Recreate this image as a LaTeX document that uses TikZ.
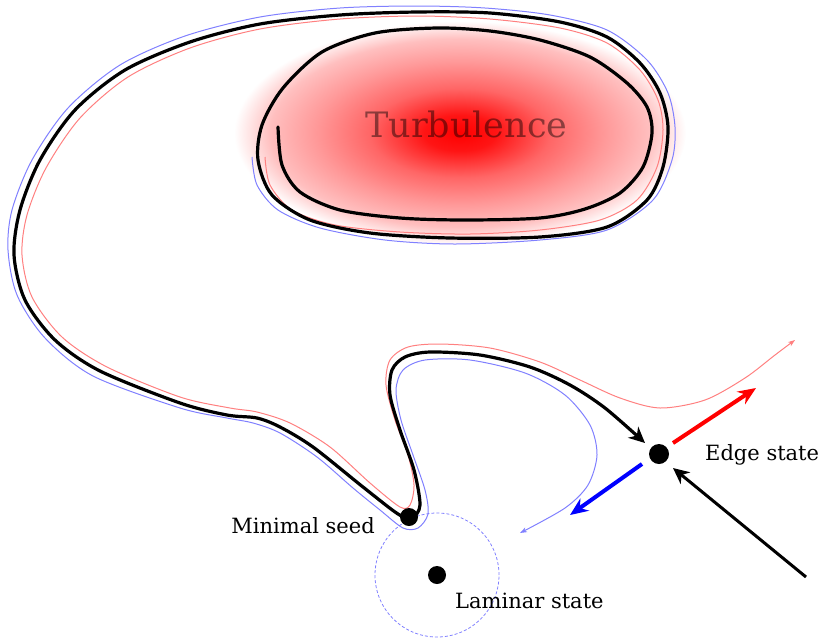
\documentclass[tikz,border=0pt]{standalone}
\usepackage{fontspec}
\setmainfont{DejaVu Serif}
\usetikzlibrary{arrows.meta}
\pgfdeclareradialshading{turb}{\pgfpoint{0bp}{0bp}}{color(0bp)=(red); color(4bp)=(red!92!white); color(10bp)=(red!60!white); color(16bp)=(red!40!white); color(21bp)=(red!25!white); color(25bp)=(white); color(50bp)=(white)}
\tikzset{
  dot/.style={circle, fill=black, inner sep=0pt, minimum size=18pt},
  lbl/.style={inner sep=0pt, font=\fontsize{21}{25}\selectfont},
  traj/.style={line width=3.2pt, line cap=round, line join=round},
  thinred/.style={red!50, line width=1pt},
  thinblue/.style={blue!50, line width=1pt},
  bigtip/.style={-{Stealth[length=16pt,width=15pt,inset=5pt]}},
  smalltip/.style={-{Stealth[length=7pt,width=5pt,inset=2pt]}},
}
\begin{document}
\begin{tikzpicture}[x=1pt,y=-1pt]
\useasboundingbox (0,0) rectangle (824,638);
% turbulence blob
\shade[shading=turb] (460,133) ellipse [x radius=226pt, y radius=112pt];
\node[inner sep=0pt, anchor=base west, font=\fontsize{35}{40}\selectfont, text=black, text opacity=0.45] (turb) at (365,137) {Turbulence};
% laminar basin
\draw[blue!50, line width=0.8pt, dash pattern=on 3pt off 2pt] (437,575) circle [radius=62pt];
% thin red trajectory
\draw[thinred, smalltip] plot[smooth, tension=0.5] coordinates {
(265,157) (270,185) (292,210) (335,225) (400,232) (470,234) (540,230) (600,220) (637,200) (657,167) (663,130) (658,100) (640,70) (607,43) (560,28) (490,19) (417,16) (340,19) (260,29) (190,48) (128,77) (80,118) (46,168) (27,215) (22,255) (32,297) (62,337) (107,367) (180,397) (230,408) (257,412) (290,423) (330,447) (370,483) (400,507) (410,505) (414,485) (408,455) (395,420) (386,385) (390,360) (408,347) (440,344) (490,348) (540,362) (580,380) (620,398) (660,408) (705,400) (745,378) (775,355) (795,340)};
% thin blue trajectory
\draw[thinblue, smalltip] plot[smooth, tension=0.5] coordinates {
(252,157) (257,185) (278,210) (320,228) (385,240) (455,244) (540,240) (607,230) (653,200) (672,160) (675,127) (668,93) (647,60) (607,30) (550,15) (485,8) (417,6) (340,8) (260,17) (185,36) (120,65) (68,108) (32,160) (12,210) (8,250) (17,295) (45,338) (93,376) (180,408) (227,418) (253,423) (280,433) (317,457) (353,488) (380,510) (403,528) (418,528) (428,514) (425,490) (413,455) (401,420) (396,390) (403,370) (425,360) (470,360) (525,373) (565,395) (590,425) (597,455) (588,485) (565,508) (520,533)};
% main black trajectory
\draw[traj, bigtip] plot[smooth, tension=0.5] coordinates {
(278,127) (282,165) (300,192) (340,210) (400,218) (465,220) (540,218) (585,209) (620,193) (643,167) (652,133) (647,107) (627,83) (590,57) (540,40) (490,31) (437,28) (375,33) (322,52) (283,88) (262,125) (258,160) (272,195) (310,220) (370,233) (450,238) (540,237) (607,227) (647,200) (663,167) (668,127) (660,93) (640,63) (607,37) (560,22) (490,13) (417,12) (340,15) (260,24) (190,42) (125,70) (75,110) (40,160) (20,210) (14,255) (25,300) (55,340) (100,371) (180,403) (227,415) (257,418) (280,427) (313,447) (363,487) (398,514) (412,518) (420,505) (414,470) (400,430) (390,395) (392,370) (405,357) (430,352) (480,355) (530,367) (570,385) (605,408) (645,443)};
% states
\node[dot] (seed) at (409,517) {};
\node[dot] (lam) at (437,575) {};
\node[dot, minimum size=20pt] (edge) at (659,454) {};
% edge state manifold arrows
\coordinate (rs) at (673,443);
\coordinate (re) at (756,388);
\coordinate (bs) at (642,464);
\coordinate (be) at (570,515);
\coordinate (ks) at (806,577);
\coordinate (ke) at (673,468);
\draw[red, line width=4pt, -{Stealth[length=18pt,width=15pt,inset=6pt]}] (rs) -- (re);
\draw[blue, line width=4pt, -{Stealth[length=18pt,width=15pt,inset=6pt]}] (bs) -- (be);
\draw[line width=3pt, bigtip] (ks) -- (ke);
% labels
\node[lbl, anchor=base west] (edgel) at (705,460) {Edge state};
\node[lbl, anchor=base east] (seedl) at (375,533) {Minimal seed};
\node[lbl, anchor=base west] (laml) at (455,608) {Laminar state};
\end{tikzpicture}
\end{document}
